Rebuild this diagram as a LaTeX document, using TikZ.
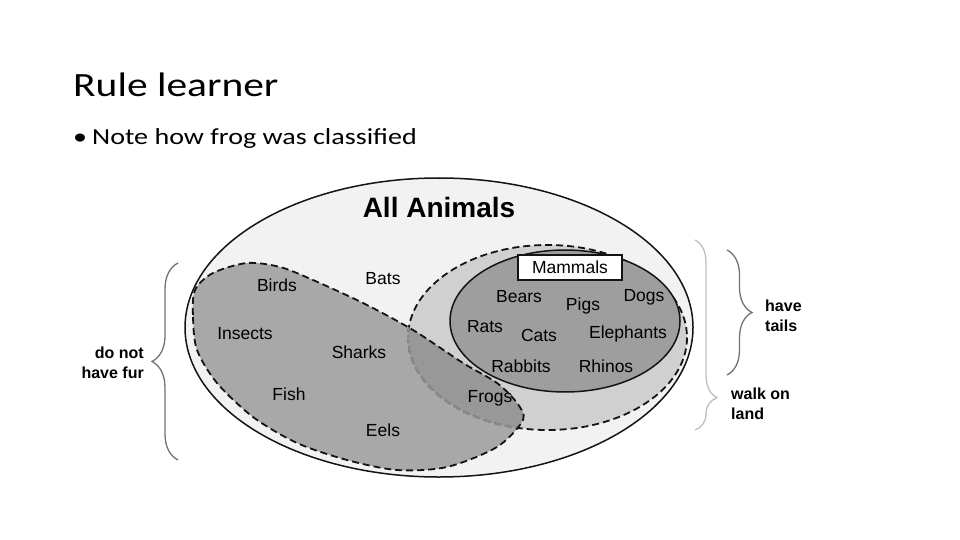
\documentclass[tikz,border=0pt]{standalone}
\usepackage{fontspec}
\usetikzlibrary{decorations.pathreplacing}
\newfontfamily\slidefont[FakeStretch=1.22]{Carlito}
\newfontfamily\figfont{Liberation Sans}
\definecolor{figline}{RGB}{20,20,20}
\definecolor{allfill}{RGB}{242,242,242}
\definecolor{landfill}{RGB}{208,208,208}
\definecolor{furfill}{RGB}{104,104,104}
\definecolor{mamfill}{RGB}{158,158,158}
\tikzset{
  rim/.style  ={draw=figline, line width=1.5pt},
  dsh/.style  ={draw=figline, line width=1.8pt, dash pattern=on 7pt off 4pt},
  lab/.style  ={font=\figfont\fontsize{17.5}{20}\selectfont, inner sep=0pt},
  labb/.style ={font=\figfont\bfseries\fontsize{16}{20}\selectfont, inner sep=0pt, align=left},
  brc/.style  ={decorate, line width=1.3pt, decoration={brace, amplitude=#1}},
}

\begin{document}
\begin{tikzpicture}[x=1pt,y=-1pt]
  \useasboundingbox (0,0) rectangle (960,540);
  % slide text
  \node[font=\slidefont\fontsize{34}{40}\selectfont, anchor=base west, inner sep=0pt] (title) at (73,97) {Rule learner};
  \node[font=\slidefont\fontsize{23}{28}\selectfont, anchor=base west, inner sep=0pt] (dot) at (73,145) {•};
  \node[font=\slidefont\fontsize{23}{28}\selectfont, anchor=base west, inner sep=0pt] (note) at (92,145) {Note how frog was classified};
  % sets
  \draw[rim, fill=allfill] (439,327.5) ellipse [x radius=254, y radius=149.5];
  \draw[dsh, fill=landfill] (547.5,337.5) ellipse [x radius=139.5, y radius=92.5];
  \path[save path=\furblob] plot[smooth cycle] coordinates {(195,290) (193,317) (197,350) (217,383) (253,417) (297,443) (347,460) (397,470) (447,467) (497,447) (523,420) (517,403) (497,383) (463,363) (413,330) (363,303) (313,280) (280,267) (247,263) (213,273)};
  \fill[furfill, fill opacity=0.53, use path=\furblob];
  \begin{scope}
    \clip[use path=\furblob];
    \draw[dsh, draw=black!45] (547.5,337.5) ellipse [x radius=139.5, y radius=92.5];
  \end{scope}
  \draw[dsh, use path=\furblob];
  \draw[rim, fill=mamfill] (565,321) ellipse [x radius=115, y radius=71];
  \node[lab, draw=figline, line width=1.2pt, fill=white, minimum width=104pt, minimum height=25pt] (mammals) at (570,267.5) {Mammals};
  \node[font=\figfont\bfseries\fontsize{28}{32}\selectfont, inner sep=0pt] (all) at (439,207) {All Animals};
  % animals
  \node[lab] (birds) at (277,285) {Birds};
  \node[lab] (bats) at (383,279) {Bats};
  \node[lab] (insects) at (245,334) {Insects};
  \node[lab] (sharks) at (359,352) {Sharks};
  \node[lab] (fish) at (289,394) {Fish};
  \node[lab] (eels) at (383,430) {Eels};
  \node[lab] (frogs) at (490,398) {Frogs};
  \node[lab] (bears) at (519,297) {Bears};
  \node[lab] (pigs) at (583,306) {Pigs};
  \node[lab] (dogs) at (644,297) {Dogs};
  \node[lab] (rats) at (485,327) {Rats};
  \node[lab] (cats) at (539,335) {Cats};
  \node[lab] (elephants) at (628,334) {Elephants};
  \node[lab] (rabbits) at (521,366) {Rabbits};
  \node[lab] (rhinos) at (606,366) {Rhinos};
  % braces
  \draw[brc=26, draw=black!55] (178,460) -- (178,263);
  \draw[brc=22, draw=black!25, decoration={aspect=0.83}] (695,240) -- (695,430);
  \draw[brc=25, draw=black!55] (727,250) -- (727,375);
  \node[labb, anchor=east, align=right] (nofur) at (144,363) {do not\\have fur};
  \node[labb, anchor=west] (tails) at (765,316) {have\\tails};
  \node[labb, anchor=west] (land) at (731,404) {walk on\\land};
\end{tikzpicture}
\end{document}
